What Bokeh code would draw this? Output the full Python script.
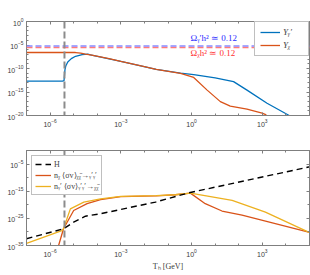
import numpy as np
from bokeh.plotting import figure
from bokeh.models import (FixedTicker, LogAxis, Span, Label, Legend, LegendItem,
                          CustomJSTickFormatter, Range1d)
from bokeh.layouts import column
from bokeh.embed import file_html
from bokeh.resources import INLINE

# ---------------- data (log10 values) ----------------
# top panel: yields
logT_Ygp = [-7.0, -5.47, -5.41, -5.39, -5.37, -5.33, -5.25, -5.1, -4.92, -4.64, -4.4, -4.29,
            -3.0, -1.5, -0.47, 0.09, 1.0, 1.78, 2.35, 3.2, 4.1, 4.3]
logY_Ygp = [-12.7, -12.7, -12.6, -11.5, -10.3, -9.4, -8.6, -7.9, -7.4, -7.05, -6.95, -7.1,
            -8.5, -10.2, -11.0, -11.3, -12.0, -12.8, -14.6, -17.4, -19.9, -20.5]
logT_Ychi = [-7.0, -4.92, -4.7, -4.5, -4.29, -3.5, -3.0, -2.0, -1.5, -0.47, 0.09, 0.66,
             1.22, 1.64, 2.35, 2.99, 3.17]
logY_Ychi = [-6.6, -6.6, -6.75, -6.95, -7.1, -7.9, -8.5, -9.6, -10.2, -11.05, -11.9, -14.6,
             -17.05, -18.0, -18.65, -19.5, -19.85]
logY_target_gp = -5.2    # Omega_gamma' h^2 = 0.12
logY_target_chi = -5.55  # Omega_chi h^2 = 0.12
logT_transition = -5.39

# bottom panel: rates
logT_H = [-7.0, -5.43, -5.0, -4.5, -3.86, -1.53, -0.12, 4.96, 5.0]
logR_H = [-32.5, -28.85, -26.4, -24.2, -23.3, -19.0, -15.6, -6.1, -6.0]
logT_nchi = [-5.64, -5.43, -5.0, -4.43, -3.86, -3.0, -1.5, -0.69, -0.05, 0.58, 1.29,
             2.14, 4.96, 5.0]
logR_nchi = [-35.0, -28.85, -22.1, -19.6, -18.1, -17.0, -16.7, -16.3, -15.7, -19.6,
             -22.3, -23.8, -30.1, -30.2]
logT_ngp = [-7.0, -5.5, -5.43, -5.14, -4.57, -3.86, -3.0, -1.5, -0.69, -0.05, 1.72, 3.13,
            4.96, 5.0]
logR_ngp = [-34.2, -29.5, -28.85, -21.5, -19.0, -17.8, -16.9, -16.6, -16.3, -15.7, -18.4,
            -22.7, -30.1, -30.2]

x_major = [1e-6, 1e-3, 1e0, 1e3]
x_minor = [10.0 ** k for k in range(-7, 6)]
top_y_major = [1e-20, 1e-15, 1e-10, 1e-5, 1e0]
top_y_minor = [10.0 ** k for k in range(-20, 1)]
bot_y_major = [1e-35, 1e-25, 1e-15, 1e-5]
bot_y_minor = [10.0 ** k for k in range(-35, 1, 5)]

p10 = lambda a: list(10.0 ** np.array(a, dtype=float))

BLUE = "#0072BD"
ORANGE = "#D95319"
YELLOW = "#EDB120"
AXC = "#7f7f7f"
TXC = "#3a3a3a"
SERIF = "Liberation Serif"


def style(p, ymaj, ymin):
    for ax in p.below:
        ax.ticker = FixedTicker(ticks=x_major, minor_ticks=x_minor)
    for ax in p.left:
        ax.ticker = FixedTicker(ticks=ymaj, minor_ticks=ymin)
    for ax in list(p.below) + list(p.left):
        ax.axis_line_color = AXC
        ax.major_tick_line_color = AXC
        ax.minor_tick_line_color = AXC
        ax.major_tick_in = 3
        ax.major_tick_out = 0
        ax.minor_tick_in = 2
        ax.minor_tick_out = 0
        ax.major_label_text_font_size = "7px"
        ax.major_label_text_color = TXC
        ax.major_label_standoff = 3
    # mirrored axes (ticks only)
    for loc in ("above", "right"):
        if loc == "above":
            ax = LogAxis(ticker=FixedTicker(ticks=x_major, minor_ticks=x_minor))
        else:
            ax = LogAxis(ticker=FixedTicker(ticks=ymaj, minor_ticks=ymin))
        ax.formatter = CustomJSTickFormatter(code="return ''")
        ax.major_label_text_font_size = "0px"
        ax.major_label_standoff = 0
        ax.axis_line_color = AXC
        ax.major_tick_line_color = AXC
        ax.minor_tick_line_color = AXC
        ax.major_tick_in = 3
        ax.major_tick_out = 0
        ax.minor_tick_in = 2
        ax.minor_tick_out = 0
        p.add_layout(ax, loc)
    p.outline_line_color = AXC
    p.xgrid.visible = False
    p.ygrid.visible = False
    p.background_fill_color = "white"
    p.border_fill_color = "white"


# ---------------- top figure ----------------
p1 = figure(width=310, height=135, x_axis_type="log", y_axis_type="log",
            x_range=Range1d(1e-7, 1e5), y_range=Range1d(1e-20, 1e0),
            output_backend="svg", toolbar_location=None,
            min_border_left=26, min_border_right=1, min_border_top=21, min_border_bottom=20)
style(p1, top_y_major, top_y_minor)

p1.add_layout(Span(location=10 ** logY_target_chi, dimension="width", line_color="#ff7a7a",
                   line_width=1.5, line_dash="6 3"))
p1.add_layout(Span(location=10 ** logY_target_gp, dimension="width", line_color="#8a8aff",
                   line_width=1.5, line_dash="6 3"))
p1.add_layout(Span(location=10 ** logT_transition, dimension="height", line_color="#8c8c8c",
                   line_width=2, line_dash="7 3"))

r_gp = p1.line(p10(logT_Ygp), p10(logY_Ygp), line_color=BLUE, line_width=1.3)
r_chi = p1.line(p10(logT_Ychi), p10(logY_Ychi), line_color=ORANGE, line_width=1.3)

p1.add_layout(Label(x=0.9, y=10 ** -3.6, text="Ωᵧ′h² ≃ 0.12", text_color="#2a2aff",
                    text_font_size="9px", text_baseline="middle", text_font=SERIF))
p1.add_layout(Label(x=0.9, y=10 ** -6.6, text="Ωᵪh² ≃ 0.12", text_color="#ff3030",
                    text_font_size="9px", text_baseline="middle", text_font=SERIF))

leg1 = Legend(items=[LegendItem(label="Yᵧ′", renderers=[r_gp]),
                     LegendItem(label="Yᵪ", renderers=[r_chi])],
              location="top_right", margin=0, padding=5, spacing=3,
              label_text_font_size="9px", label_text_font=SERIF, label_text_font_style="italic",
              label_height=10, glyph_height=10, glyph_width=20, label_standoff=3,
              border_line_color=AXC, background_fill_alpha=1.0)
p1.add_layout(leg1)

# ---------------- bottom figure ----------------
p2 = figure(width=310, height=140, x_axis_type="log", y_axis_type="log",
            x_range=Range1d(1e-7, 1e5), y_range=Range1d(1e-35, 1e0),
            output_backend="svg", toolbar_location=None,
            min_border_left=26, min_border_right=1, min_border_top=15, min_border_bottom=30)
style(p2, bot_y_major, bot_y_minor)
xa = p2.below[0]
xa.axis_label = "Tₕ [GeV]"
xa.axis_label_text_font = SERIF
xa.axis_label_text_font_style = "normal"
xa.axis_label_text_font_size = "8px"
xa.axis_label_text_color = TXC
xa.axis_label_standoff = 2

p2.add_layout(Span(location=10 ** logT_transition, dimension="height", line_color="#8c8c8c",
                   line_width=2, line_dash="7 3"))
r_nchi = p2.line(p10(logT_nchi), p10(logR_nchi), line_color=ORANGE, line_width=1.3)
r_ngp = p2.line(p10(logT_ngp), p10(logR_ngp), line_color=YELLOW, line_width=1.3)
r_H = p2.line(p10(logT_H), p10(logR_H), line_color="black", line_width=1.4, line_dash="6 4")

leg2 = Legend(items=[LegendItem(label="H", renderers=[r_H]),
                     LegendItem(label="nᵪ ⟨σv⟩ᵪᵪ̄→ᵧ′ᵧ′", renderers=[r_nchi]),
                     LegendItem(label="nᵧ′ ⟨σv⟩ᵧ′ᵧ′→ᵪᵪ̄", renderers=[r_ngp])],
              location="top_left", margin=5, padding=3, spacing=1,
              label_text_font_size="8px", label_text_font=SERIF,
              label_height=10, glyph_height=10, glyph_width=16, label_standoff=3,
              border_line_color=AXC, background_fill_alpha=1.0)
p2.add_layout(leg2)

layout = column(p1, p2)
open("out.html", "w").write(file_html(layout, INLINE))
